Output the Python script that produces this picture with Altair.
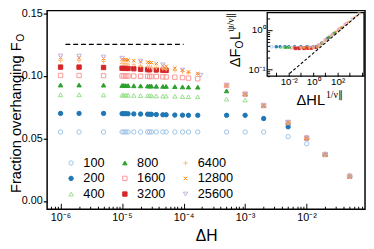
import altair as alt
import pandas as pd

FONT = "Liberation Sans"

# ---------------- main panel data ----------------
x_lo = [1e-6, 2e-6, 5e-6, 1e-5, 1.07e-5, 1.15e-5, 1.25e-5, 1.55e-5, 2e-5, 2.6e-5,
        2.8e-5, 3e-5, 3.6e-5, 4.6e-5, 5.2e-5, 7.2e-5, 9.6e-5, 1.2e-4, 1.7e-4]
x_hi = [5e-4, 1e-3, 2e-3, 5e-3, 1e-2, 2e-2, 5e-2]
x_3200 = [1e-6, 2e-6, 5e-6, 1e-5, 1.07e-5, 1.15e-5, 1.25e-5, 1.55e-5, 2e-5, 2.6e-5,
          2.8e-5, 3.6e-5, 4.6e-5, 5.2e-5]
x_25600 = [1e-6, 2e-6, 5e-6, 1e-5, 2e-5, 4.6e-5, 9.6e-5, 1.9e-4]

y_100 = [0.0551, 0.0551, 0.0551, 0.0551, 0.0551, 0.0551, 0.0551, 0.0551, 0.0551, 0.0551,
         0.0551, 0.0551, 0.0551, 0.0551, 0.0551, 0.0551, 0.0551, 0.0551, 0.0551]
y_100_hi = [0.0551, 0.0551, 0.0551, 0.0514, 0.0457, 0.0371, 0.0197]
y_200 = [0.0699, 0.0699, 0.0699, 0.0697, 0.0697, 0.0697, 0.0696, 0.0695, 0.0694, 0.0693,
         0.0692, 0.0692, 0.0690, 0.0688, 0.0688, 0.0686, 0.0685, 0.0684, 0.0684]
y_200_hi = [0.0684, 0.0684, 0.0658, 0.0592, 0.0502, 0.0371, 0.0197]
y_400 = [0.0848, 0.0848, 0.0847, 0.0845, 0.0845, 0.0845, 0.0844, 0.0843, 0.0842, 0.0841,
         0.0841, 0.0840, 0.0839, 0.0838, 0.0838, 0.0836, 0.0834, 0.0833, 0.0832]
y_400_hi = [0.0814, 0.0806, 0.0762, 0.0627, 0.0502, 0.0371, 0.0197]
y_800 = [0.0926, 0.0926, 0.0925, 0.0922, 0.0922, 0.0921, 0.0921, 0.0920, 0.0919, 0.0918,
         0.0918, 0.0917, 0.0916, 0.0915, 0.0915, 0.0913, 0.0911, 0.0910, 0.0909]
y_800_hi = [0.0879, 0.0853, 0.0762, 0.0627, 0.0502, 0.0371, 0.0197]
y_1600 = [0.1002, 0.1002, 0.1001, 0.0999, 0.0999, 0.0998, 0.0998, 0.0997, 0.0996, 0.0995,
          0.0994, 0.0994, 0.0993, 0.0991, 0.0990, 0.0988, 0.0985, 0.0981, 0.0976]
y_1600_hi = [0.0923, 0.0853, 0.0762, 0.0627, 0.0502, 0.0371, 0.0197]
y_3200 = [0.1069, 0.1069, 0.1066, 0.1060, 0.1059, 0.1059, 0.1058, 0.1056, 0.1052, 0.1049,
          0.1048, 0.1046, 0.1044, 0.1043]
y_6400 = [0.1121, 0.1120, 0.1115, 0.1098, 0.1097, 0.1095, 0.1093, 0.1088, 0.1080, 0.1072,
          0.1070, 0.1068, 0.1064, 0.1056, 0.1052, 0.1042, 0.1032, 0.1025, 0.1012]
y_6400_hi = [0.0923, 0.0853, 0.0762, 0.0627, 0.0502, 0.0371, 0.0197]
y_12800 = [0.1145, 0.1143, 0.1138, 0.1130, 0.1129, 0.1127, 0.1125, 0.1120, 0.1112, 0.1108,
           0.1106, 0.1104, 0.1096, 0.1080, 0.1075, 0.1060, 0.1045, 0.1030, 0.1018]
y_12800_hi = [0.0923, 0.0853, 0.0762, 0.0627, 0.0502, 0.0371, 0.0197]
y_25600 = [0.1158, 0.1157, 0.1150, 0.1140, 0.1117, 0.1087, 0.1045, 0.1004]
y_25600_hi = [0.0923, 0.0853, 0.0762, 0.0627, 0.0502, 0.0371, 0.0197]

dash_x = [1.2e-6, 1.0e-4]
dash_y = [0.125, 0.125]

# ---------------- inset data ----------------
ins_x_100 = [4e-4, 8e-4, 2e-3, 4e-3, 1e-2, 3e-2, 1e-1, 4e-1, 2, 5, 20]
ins_y_100 = [0.38, 0.38, 0.38, 0.38, 0.38, 0.38, 0.38, 0.38, 0.39, 0.47, 0.66]
ins_x_200 = [1e-3, 2e-3, 5e-3, 1e-2, 3e-2, 1e-1, 3e-1, 1, 5, 15, 50]
ins_y_200 = [0.38, 0.38, 0.38, 0.38, 0.38, 0.38, 0.38, 0.38, 0.47, 0.62, 0.82]
ins_x_400 = [2.5e-3, 5e-3, 1e-2, 3e-2, 1e-1, 3e-1, 1, 3, 10, 40, 120]
ins_y_400 = [0.37, 0.37, 0.37, 0.37, 0.37, 0.37, 0.38, 0.42, 0.56, 0.78, 1.02]
ins_x_800 = [6e-3, 1.2e-2, 3e-2, 6e-2, 0.2, 0.5, 1.5, 5, 20, 60, 200]
ins_y_800 = [0.37, 0.37, 0.37, 0.37, 0.37, 0.37, 0.38, 0.47, 0.66, 0.86, 1.15]
ins_x_1600 = [1.5e-2, 3e-2, 7e-2, 0.15, 0.4, 1, 3, 10, 40, 150, 500]
ins_y_1600 = [0.36, 0.36, 0.36, 0.36, 0.36, 0.37, 0.42, 0.56, 0.78, 1.07, 1.43]
ins_x_3200 = [0.036, 0.07, 0.18, 0.36, 0.7, 1.8]
ins_y_3200 = [0.345, 0.345, 0.345, 0.35, 0.35, 0.37]
ins_x_6400 = [0.09, 0.18, 0.45, 0.9, 2, 5, 9, 30, 90, 300, 900, 3000]
ins_y_6400 = [0.36, 0.36, 0.36, 0.36, 0.38, 0.47, 0.54, 0.73, 0.95, 1.27, 1.64, 2.2]
ins_x_12800 = [0.22, 0.45, 1.1, 2.2, 5, 12, 22, 70, 220, 700, 2200, 6000]
ins_y_12800 = [0.36, 0.36, 0.37, 0.385, 0.47, 0.585, 0.675, 0.895, 1.17, 1.56, 2.04, 2.6]
ins_x_25600 = [0.55, 1.1, 2.8, 5.5, 11, 28, 110, 400, 1500, 5500]
ins_y_25600 = [0.37, 0.37, 0.41, 0.48, 0.56, 0.71, 0.99, 1.36, 1.88, 2.55]

ins_dash_x = [0.012, 6000]
ins_dash_y = [0.081, 2.55]

# ---------------- styling ----------------
SERIES = ["100", "200", "400", "800", "1600", "3200", "6400", "12800", "25600"]
STROKE = {"100": "#9cc3e4", "200": "#1f77b4", "400": "#98df8a", "800": "#2ca02c",
          "1600": "#ff9896", "3200": "#d62728", "6400": "#ffbb78", "12800": "#ff7f0e",
          "25600": "#c5b0d5"}
FILL = {"100": "transparent", "200": "#1f77b4", "400": "transparent", "800": "#2ca02c",
        "1600": "transparent", "3200": "#d62728", "6400": "transparent",
        "12800": "transparent", "25600": "transparent"}
PLUS = "M-1,0L1,0M0,-1L0,1"
XMARK = "M-0.8,-0.8L0.8,0.8M-0.8,0.8L0.8,-0.8"
SHAPE = {"100": "circle", "200": "circle", "400": "triangle-up", "800": "triangle-up",
         "1600": "square", "3200": "square", "6400": PLUS, "12800": XMARK,
         "25600": "triangle-down"}

main_series = {
    "100": (x_lo + x_hi, y_100 + y_100_hi),
    "200": (x_lo + x_hi, y_200 + y_200_hi),
    "400": (x_lo + x_hi, y_400 + y_400_hi),
    "800": (x_lo + x_hi, y_800 + y_800_hi),
    "1600": (x_lo + x_hi, y_1600 + y_1600_hi),
    "3200": (x_3200, y_3200),
    "6400": (x_lo + x_hi, y_6400 + y_6400_hi),
    "12800": (x_lo + x_hi, y_12800 + y_12800_hi),
    "25600": (x_25600 + x_hi, y_25600 + y_25600_hi),
}
inset_series = {
    "100": (ins_x_100, ins_y_100), "200": (ins_x_200, ins_y_200),
    "400": (ins_x_400, ins_y_400), "800": (ins_x_800, ins_y_800),
    "1600": (ins_x_1600, ins_y_1600), "3200": (ins_x_3200, ins_y_3200),
    "6400": (ins_x_6400, ins_y_6400), "12800": (ins_x_12800, ins_y_12800),
    "25600": (ins_x_25600, ins_y_25600),
}


def to_df(d):
    rows = []
    for L in SERIES:
        xs, ys = d[L]
        for a, b in zip(xs, ys):
            rows.append({"x": a, "y": b, "L": L})
    return pd.DataFrame(rows)


df_main = to_df(main_series)
df_ins = to_df(inset_series)
df_dash = pd.DataFrame({"x": dash_x, "y": dash_y})
df_ins_dash = pd.DataFrame({"x": ins_dash_x, "y": ins_dash_y})

W, H = 325, 203
main_x_scale = alt.Scale(type="log", domain=[6.05e-7, 0.0889], nice=False)
main_y_scale = alt.Scale(domain=[-0.0066, 0.1520], nice=False, zero=False)
IX0, IX1, IY0, IY1 = 225, 324, 67, 2
ins_x_dom = [1.74e-4, 1.45e4]
ins_y_dom = [0.069, 2.75]
ins_x_scale = alt.Scale(type="log", domain=ins_x_dom, nice=False, range=[IX0, IX1])
ins_y_scale = alt.Scale(type="log", domain=ins_y_dom, nice=False, range=[IY0, IY1])

legend = alt.Legend(title=None, orient="none", legendX=18, legendY=149, columns=3,
                    direction="vertical",
                    labelFont=FONT, labelFontSize=13, labelColor="black",
                    symbolSize=20, symbolStrokeWidth=1, rowPadding=2, columnPadding=14,
                    labelOffset=6, gridAlign="each", padding=0)
enc = dict(
    stroke=alt.Stroke("L:N", scale=alt.Scale(domain=SERIES, range=[STROKE[k] for k in SERIES]), legend=legend),
    fill=alt.Fill("L:N", scale=alt.Scale(domain=SERIES, range=[FILL[k] for k in SERIES]), legend=legend),
    shape=alt.Shape("L:N", scale=alt.Scale(domain=SERIES, range=[SHAPE[k] for k in SERIES]), legend=legend),
)

is_decade = "abs(log(datum.value)/LN10 - round(log(datum.value)/LN10)) < 0.01"

main_x_axis = alt.Axis(orient="bottom", values=[1e-6, 1e-5, 1e-4, 1e-3, 1e-2],
                       labelExpr="datum.value < 3e-6 ? '10⁻⁶' : datum.value < 3e-5 ? '10⁻⁵' : datum.value < 3e-4 ? '10⁻⁴' : datum.value < 3e-3 ? '10⁻³' : '10⁻²'",
                       ticks=False, tickSize=0, domain=False, grid=False, labelFontSize=11,
                       labelPadding=3, labelFont=FONT, labelColor="black",
                       title="ΔH", titleFont=FONT, titleFontSize=16, titleFontWeight="normal",
                       titleColor="black", titlePadding=5, zindex=1)
main_y_axis = alt.Axis(orient="left", values=[0, 0.05, 0.1, 0.15], format=".2f",
                       tickSize=4, tickColor="black", tickWidth=1.2, domain=False, grid=False,
                       labelFontSize=11, labelPadding=1, labelFont=FONT, labelColor="black",
                       title=None, zindex=1)

minor_x = [float(f"{k}e{e}") for e in range(-7, -1) for k in range(1, 10)]
minor_x = [v for v in minor_x if 6.05e-7 <= v <= 0.0889]

main_pts = alt.Chart(df_main).mark_point(filled=False, size=20, strokeWidth=1, opacity=1).encode(
    x=alt.X("x:Q", scale=main_x_scale, axis=main_x_axis),
    y=alt.Y("y:Q", scale=main_y_scale, axis=main_y_axis),
    **enc)

main_ticks = alt.Chart(df_main).mark_point(opacity=0).encode(
    x=alt.X("x:Q", scale=main_x_scale,
            axis=alt.Axis(orient="top", offset=-H, values=minor_x, labels=False, domain=False,
                          grid=False, tickSize={"condition": {"test": is_decade, "value": 6}, "value": 3},
                          tickColor="black", tickWidth=1, title=None, zindex=1)),
    y=alt.Y("y:Q", scale=main_y_scale, axis=None))

main_dash = alt.Chart(df_dash).mark_line(color="black", strokeDash=[5, 3], strokeWidth=1.4).encode(
    x=alt.X("x:Q", scale=main_x_scale, axis=None),
    y=alt.Y("y:Q", scale=main_y_scale, axis=None))

df_frame = pd.DataFrame({"x0": [ins_x_dom[0]], "x1": [ins_x_dom[1]], "y0": [ins_y_dom[0]], "y1": [ins_y_dom[1]]})
ins_frame = alt.Chart(df_frame).mark_rect(fill="white", stroke="black", strokeWidth=1.3).encode(
    x=alt.X("x0:Q", scale=ins_x_scale,
            axis=alt.Axis(orient="bottom", offset=IY0 - H, values=[1e-2, 1, 1e2],
                          labelExpr="datum.value < 0.1 ? '10⁻²' : datum.value < 10 ? '10⁰' : '10²'",
                          ticks=False, tickSize=0, domain=False, grid=False, labelFontSize=10,
                          labelPadding=1, labelFont=FONT, labelColor="black", title=None, zindex=1)),
    x2="x1:Q",
    y=alt.Y("y0:Q", scale=ins_y_scale,
            axis=alt.Axis(orient="left", offset=-IX0, values=[0.1, 1],
                          labelExpr="datum.value < 0.5 ? '10⁻¹' : '10⁰'",
                          ticks=False, tickSize=0, domain=False, grid=False, labelFontSize=10,
                          labelPadding=2, labelFont=FONT, labelColor="black", title=None, zindex=1)),
    y2="y1:Q")

ins_xt = [1e-3, 1e-2, 1e-1, 1, 10, 100, 1000, 10000]
ins_yt = [0.07, 0.08, 0.09, 0.1, 0.2, 0.3, 0.4, 0.5, 0.6, 0.7, 0.8, 0.9, 1, 2]
ins_ticks = alt.Chart(df_ins).mark_point(opacity=0).encode(
    x=alt.X("x:Q", scale=ins_x_scale,
            axis=alt.Axis(orient="top", offset=-IY0, values=ins_xt, labels=False, domain=False,
                          grid=False, tickSize=4, tickColor="black", tickWidth=1, title=None, zindex=1)),
    y=alt.Y("y:Q", scale=ins_y_scale,
            axis=alt.Axis(orient="right", offset=IX0 - W, values=ins_yt, labels=False, domain=False,
                          grid=False, tickSize={"condition": {"test": is_decade, "value": 5}, "value": 2.5},
                          tickColor="black", tickWidth=1, title=None, zindex=1)))

ins_pts = alt.Chart(df_ins).mark_point(filled=False, size=7, strokeWidth=0.8, opacity=1).encode(
    x=alt.X("x:Q", scale=ins_x_scale, axis=None),
    y=alt.Y("y:Q", scale=ins_y_scale, axis=None),
    **enc)

ins_dash = alt.Chart(df_ins_dash).mark_line(color="black", strokeDash=[3, 2], strokeWidth=1.1).encode(
    x=alt.X("x:Q", scale=ins_x_scale, axis=None),
    y=alt.Y("y:Q", scale=ins_y_scale, axis=None))

one = pd.DataFrame({"a": [0]})


def label(text, x, y, size, angle=0, font=FONT):
    kw = dict(text=text, align="left", baseline="alphabetic", font=font, fontSize=size, color="black")
    if angle:
        kw["angle"] = angle
    return alt.Chart(one).mark_text(**kw).encode(x=alt.value(x), y=alt.value(y))


texts = [
    label("Fraction overhanging F", -26.5, 186.5, 15, 270),
    label("O", -23.5, 31.8, 10.5, 270),
    label("ΔF", 197, 58, 15, 270),
    label("O", 200, 38.6, 10.5, 270),
    label("L", 197, 30, 15, 270),
    label("ψ/ν∥", 191, 21.5, 10, 270, "Liberation Serif"),
    label("ΔHL", 255, 96, 15),
    label("1/ν∥", 285, 89, 10, 0, "Liberation Serif"),
]

chart = alt.layer(main_ticks, main_dash, main_pts, ins_frame, ins_ticks, ins_pts, ins_dash, *texts).resolve_scale(
    x="independent", y="independent"
).properties(
    width=W, height=H,
    padding={"left": 40, "top": 0, "right": 1, "bottom": 38},
    autosize=alt.AutoSizeParams(type="none"),
).configure_view(stroke="black", strokeWidth=1.5)

chart.save("out.html", embed_options={"renderer": "svg", "actions": False})
